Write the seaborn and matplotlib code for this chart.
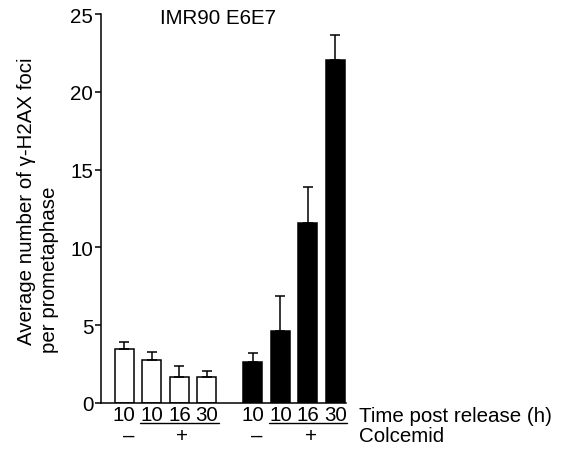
import numpy as np
import pandas as pd
import seaborn as sns
import matplotlib.pyplot as plt

# values
time_labels = ["10", "10", "16", "30", "10", "10", "16", "30"]
colcemid = ["\u2013", "+", "\u2013", "+"]
groups = ["open"] * 4 + ["filled"] * 4
means = [3.45, 2.75, 1.7, 1.7, 2.65, 4.6, 11.6, 22.05]
errs = [0.45, 0.55, 0.65, 0.38, 0.55, 2.3, 2.3, 1.6]
positions = [0, 1, 2, 3, 4.67, 5.67, 6.67, 7.67]

df = pd.DataFrame({"pos": positions, "mean": means, "err": errs, "group": groups})

sns.set_style("ticks")
plt.rcParams["font.family"] = ["Liberation Sans", "DejaVu Sans"]
plt.rcParams["text.color"] = "black"
plt.rcParams["xtick.color"] = "black"
plt.rcParams["ytick.color"] = "black"
fs = 14.8

fig = plt.figure(figsize=(5.64, 4.52), dpi=100)
ax = fig.add_axes([0.179, 0.1062, 0.4344, 0.8606])

sns.barplot(data=df, x="pos", y="mean", hue="group",
            palette={"open": "white", "filled": "black"},
            native_scale=True, dodge=False, width=0.69,
            edgecolor="black", linewidth=1.1, legend=False, ax=ax)

# upper error bars only
ax.errorbar(df["pos"], df["mean"], yerr=[np.zeros(len(df)), df["err"]],
            fmt="none", ecolor="black", elinewidth=1.1, capsize=3.6, capthick=1.1)

ax.set_xlim(-0.85, 8.05)
ax.set_ylim(0, 25)
ax.set_yticks([0, 5, 10, 15, 20, 25])
ax.tick_params(axis="y", labelsize=fs, length=4.5, width=1.1, pad=1,
               colors="black", labelcolor="black")
ax.set_xticks(positions, time_labels)
ax.tick_params(axis="x", labelsize=fs, length=0, pad=1.5, labelcolor="black")
for s in ["left", "bottom"]:
    ax.spines[s].set_linewidth(1.1)
    ax.spines[s].set_color("black")
sns.despine(ax=ax)
ax.set_xlabel("")
ax.set_ylabel("")

xt = ax.get_xaxis_transform()
# underline under colcemid-treated bars, and +/- row
for g in range(2):
    p = positions[g * 4:(g + 1) * 4]
    ax.plot([p[1] - 0.42, p[3] + 0.42], [-0.0514, -0.0514], color="black",
            lw=1.0, transform=xt, clip_on=False)
    ax.text(p[0] + 0.15, -0.097, colcemid[g * 2], transform=xt, ha="center",
            va="baseline", fontsize=fs, color="black")
    ax.text(np.mean(p[1:]) + 0.1, -0.097, colcemid[g * 2 + 1], transform=xt,
            ha="center", va="baseline", fontsize=fs, color="black")

ax.text(1.053, -0.0463, "Time post release (h)", transform=ax.transAxes,
        ha="left", va="baseline", fontsize=fs, color="black")
ax.text(1.053, -0.097, "Colcemid", transform=ax.transAxes,
        ha="left", va="baseline", fontsize=fs, color="black")
ax.text(0.241, 0.977, "IMR90 E6E7", transform=ax.transAxes,
        ha="left", va="baseline", fontsize=fs, color="black")

fig.text(27 / 564, 1 - 201.5 / 452, "Average number of \u03b3-H2AX foci",
         rotation=90, ha="center", va="center", fontsize=fs, color="black")
fig.text(50 / 564, 1 - 270 / 452, "per prometaphase",
         rotation=90, ha="center", va="center", fontsize=fs, color="black")

fig.savefig("out.png", dpi=100)
